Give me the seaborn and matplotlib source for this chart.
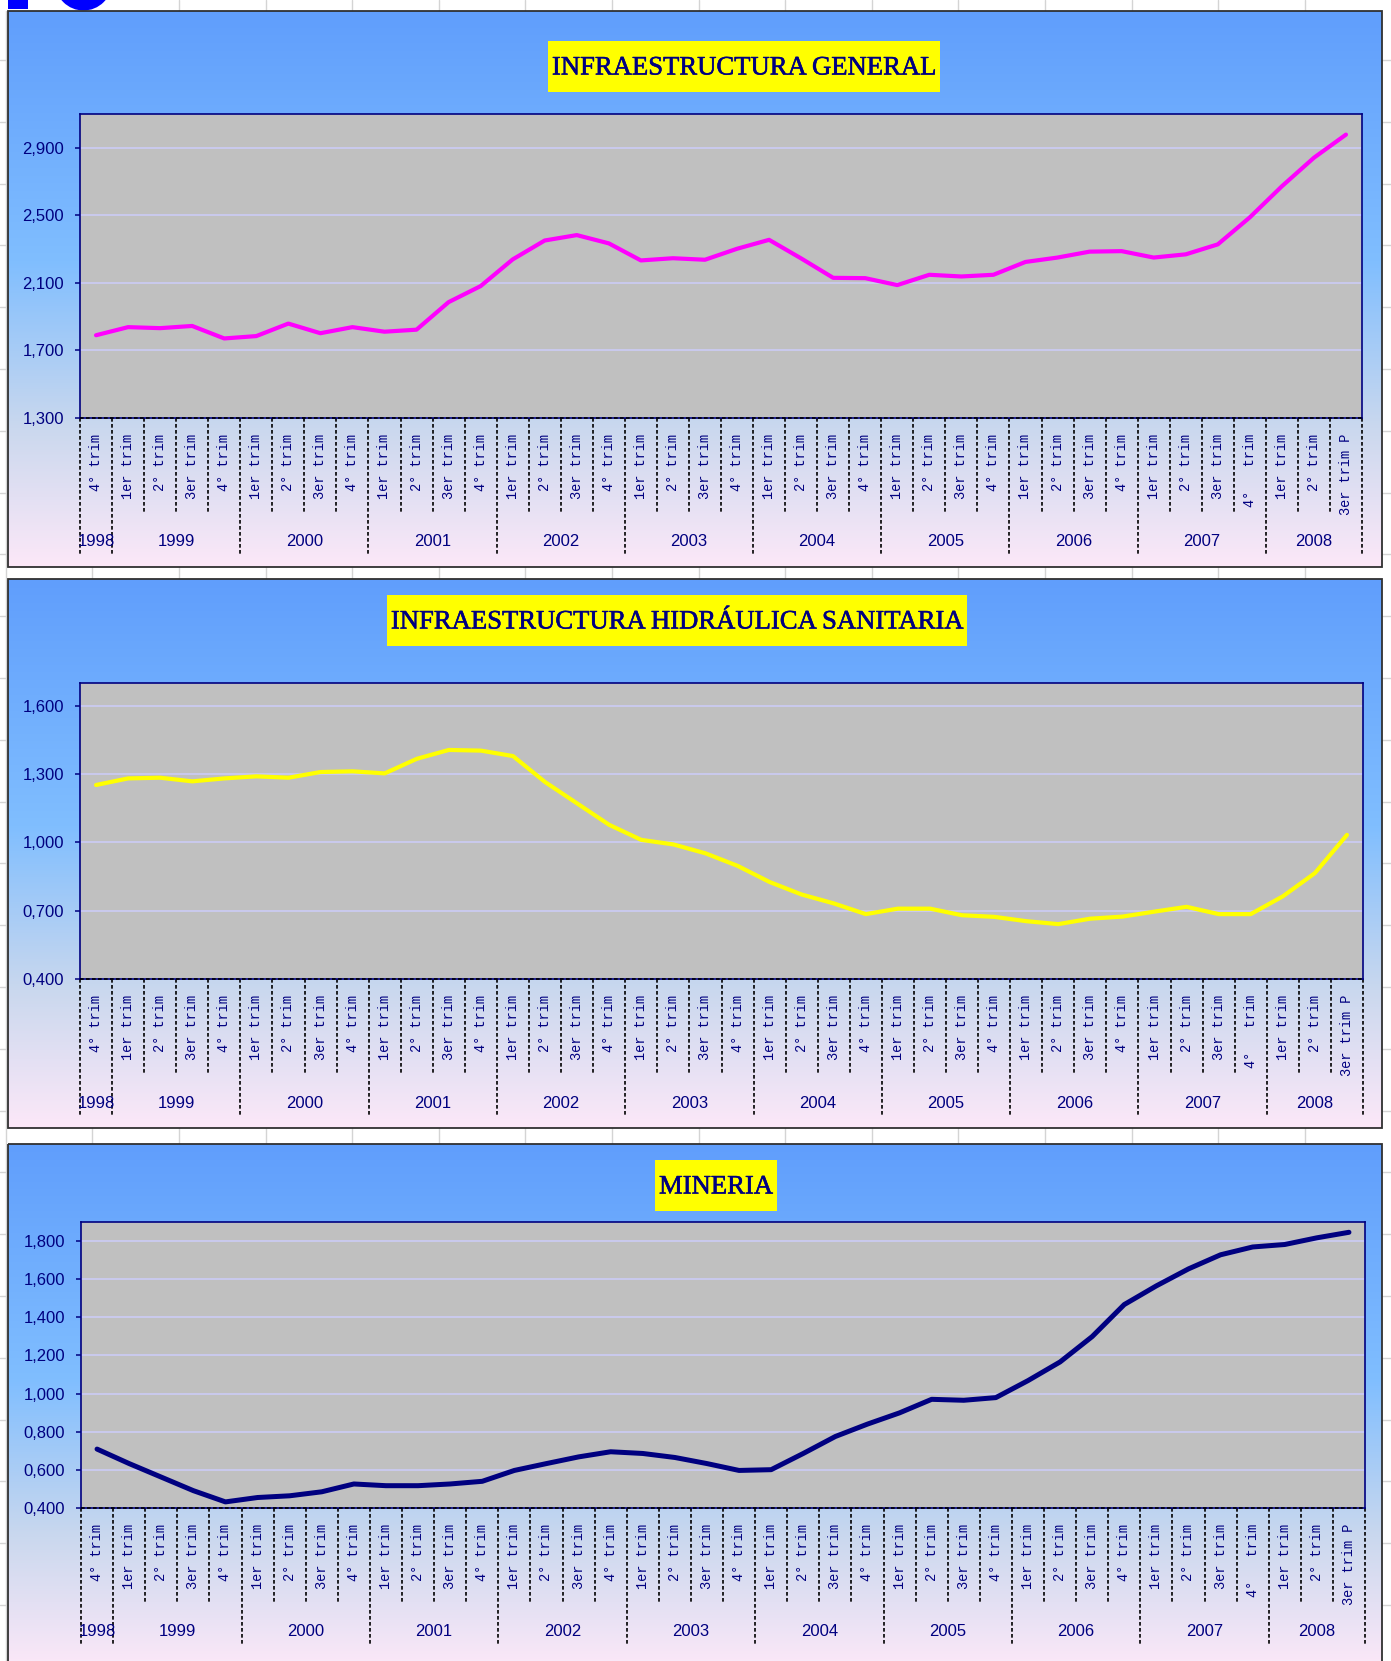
import matplotlib
matplotlib.use("Agg")
import matplotlib.pyplot as plt
import matplotlib.transforms as mtransforms
import matplotlib.patheffects as pe
from matplotlib.patches import Rectangle, Circle
from matplotlib.ticker import FuncFormatter
import seaborn as sns
import pandas as pd
import numpy as np

W, H = 1391, 1661

# categorias: trimestre y año de cada punto
anios = [1998] + [a for a in range(1999, 2008) for _ in range(4)] + [2008] * 3
trimestres = (["4° trim"]
              + ["1er trim", "2° trim", "3er trim", "4° trim"] * 8
              + ["1er trim", "2° trim", "3er trim", "4°   trim"]
              + ["1er trim", "2° trim", "3er trim P"])

# valores
infra_general = [1.790, 1.838, 1.832, 1.845, 1.771, 1.785, 1.859, 1.802, 1.838, 1.811,
                 1.823, 1.986, 2.081, 2.239, 2.351, 2.383, 2.334, 2.233, 2.246, 2.237,
                 2.302, 2.355, 2.245, 2.130, 2.128, 2.087, 2.148, 2.138, 2.148, 2.224,
                 2.250, 2.285, 2.288, 2.250, 2.269, 2.328, 2.488, 2.672, 2.841, 2.978]
infra_hidraulica = [1.252, 1.281, 1.284, 1.268, 1.281, 1.290, 1.284, 1.309, 1.312, 1.303,
                    1.367, 1.406, 1.403, 1.379, 1.265, 1.171, 1.077, 1.011, 0.991, 0.952,
                    0.897, 0.826, 0.771, 0.732, 0.685, 0.709, 0.709, 0.680, 0.673, 0.654,
                    0.641, 0.665, 0.674, 0.696, 0.717, 0.685, 0.685, 0.763, 0.865, 1.033]
mineria = [0.709, 0.633, 0.562, 0.491, 0.432, 0.455, 0.464, 0.485, 0.526, 0.517,
           0.517, 0.526, 0.540, 0.597, 0.633, 0.668, 0.695, 0.686, 0.665, 0.633,
           0.597, 0.601, 0.686, 0.775, 0.840, 0.899, 0.970, 0.965, 0.979, 1.068,
           1.166, 1.299, 1.467, 1.565, 1.654, 1.728, 1.769, 1.782, 1.817, 1.846]

ticks_general = [1.3, 1.7, 2.1, 2.5, 2.9]
ticks_hidraulica = [0.4, 0.7, 1.0, 1.3, 1.6]
ticks_mineria = [0.4, 0.6, 0.8, 1.0, 1.2, 1.4, 1.6, 1.8]

sns.set_style("white")
plt.rcParams['font.family'] = ['Liberation Sans', 'DejaVu Sans']

NAVY = '#000080'

paneles = [
    dict(titulo="INFRAESTRUCTURA GENERAL", valores=infra_general, color='#FF00FF', lw=3.0,
         ticks=ticks_general, ylim=(1.3, 3.1),
         marco=(8, 11, 1382, 567), plot=(80, 114, 1362, 418), centro=(744, 66)),
    dict(titulo="INFRAESTRUCTURA HIDRÁULICA SANITARIA", valores=infra_hidraulica, color='#FFFF00', lw=3.0,
         ticks=ticks_hidraulica, ylim=(0.4, 1.7),
         marco=(8, 579, 1382, 1128), plot=(80, 683, 1363, 979), centro=(677, 620)),
    dict(titulo="MINERIA", valores=mineria, color=NAVY, lw=3.6,
         ticks=ticks_mineria, ylim=(0.4, 1.9),
         marco=(8, 1144, 1382, 1668), plot=(81, 1222, 1365, 1508), centro=(716, 1185)),
]

fig = plt.figure(figsize=(W / 100, H / 100), dpi=100)

# lienzo en pixeles: hoja de calculo, marcos con degradado y titulos
lienzo = fig.add_axes([0, 0, 1, 1])
lienzo.axis('off')
for x in np.arange(5.8, W, 86.6):
    lienzo.plot([x, x], [0, H], color='#D4D4D4', lw=1.0, zorder=0)
for y in np.arange(60, H, 61.8):
    lienzo.plot([0, W], [y, y], color='#D4D4D4', lw=1.0, zorder=0)
lienzo.add_patch(Rectangle((0, 0), 124, 11, facecolor='white', edgecolor='none', zorder=0.5))
lienzo.add_patch(Rectangle((8, 0), 20, 9, facecolor='#0000FF', edgecolor='none', zorder=0.6))
lienzo.add_patch(Circle((83.5, -18), 28.5, facecolor='#0000FF', edgecolor='none', zorder=0.6))

stops = [0.0, 0.45, 0.75, 1.0]
colores = np.array([(96, 158, 252), (128, 190, 255), (202, 216, 238), (252, 232, 248)]) / 255
t = np.linspace(0, 1, 300)
grad = np.stack([np.interp(t, stops, colores[:, c]) for c in range(3)], axis=-1)[:, None, :]

renderer = fig.canvas.get_renderer()
grueso = [pe.withStroke(linewidth=0.4, foreground=NAVY)]

for p in paneles:
    x0, y0, x1, y1 = p['marco']
    lienzo.imshow(grad, extent=(x0, x1, y1, y0), aspect='auto', zorder=1, interpolation='bilinear')
    lienzo.add_patch(Rectangle((x0, y0), x1 - x0, y1 - y0, fill=False, edgecolor='#303030', lw=1.3, zorder=2))

    cx, cy = p['centro']
    txt = lienzo.text(cx, cy + 2, p['titulo'], ha='center', va='center', fontsize=19.2,
                      fontfamily='Liberation Serif', color=NAVY, zorder=4, path_effects=grueso)
    bb = txt.get_window_extent(renderer)
    lienzo.add_patch(Rectangle((cx - bb.width / 2 - 4, cy - 25.5), bb.width + 8, 51,
                               facecolor='#FFFF00', edgecolor='none', zorder=3))

    # area de trazado
    px0, py0, px1, py1 = p['plot']
    alto = py1 - py0
    ax = fig.add_axes([px0 / W, 1 - py1 / H, (px1 - px0) / W, alto / H])
    ax.set_facecolor('#C0C0C0')
    df = pd.DataFrame({'pos': range(len(p['valores'])), 'valor': p['valores']})
    sns.lineplot(data=df, x='pos', y='valor', color=p['color'], linewidth=p['lw'], ax=ax,
                 solid_capstyle='round', solid_joinstyle='round', zorder=4)
    ax.set_xlim(-0.5, len(trimestres) - 0.5)
    ax.set_ylim(*p['ylim'])
    ax.set_yticks(p['ticks'])
    ax.yaxis.set_major_formatter(FuncFormatter(lambda v, _: f"{v:.3f}".replace('.', ',')))
    ax.set_xticks(range(len(trimestres)))
    ax.set_xticklabels(trimestres, rotation=90, fontfamily='Liberation Mono', fontsize=9.8, color=NAVY)
    ax.tick_params(axis='x', length=0, pad=11.5)
    ax.tick_params(axis='y', left=True, length=3.6, width=1.1, color=NAVY, pad=8,
                   labelsize=12, labelcolor=NAVY)
    ax.grid(axis='y', color='#CCCCF5', lw=1.2)
    ax.grid(axis='x', visible=False)
    ax.set_axisbelow(True)
    for s in ax.spines.values():
        s.set_color(NAVY)
        s.set_linewidth(1.2)
    ax.set_xlabel('')
    ax.set_ylabel('')

    trans = mtransforms.blended_transform_factory(ax.transData, ax.transAxes)
    ax.plot([-0.5, len(trimestres) - 0.5], [0, 0], transform=trans, clip_on=False,
            color='black', lw=1.2, ls=(0, (2.2, 1.4)), zorder=5)
    for k in range(len(trimestres) + 1):
        es_anio = k == 0 or k == len(trimestres) or anios[k] != anios[k - 1]
        largo = 138 if es_anio else 96
        ax.plot([k - 0.5, k - 0.5], [0, -largo / alto], transform=trans, clip_on=False,
                color='black', lw=1.2, ls=(0, (2.2, 1.4)))
    for a in sorted(set(anios)):
        idx = [i for i, v in enumerate(anios) if v == a]
        ax.text(np.mean(idx), -124 / alto, str(a), transform=trans, ha='center', va='center',
                fontsize=12, color=NAVY)

lienzo.set_xlim(0, W)
lienzo.set_ylim(H, 0)

fig.savefig('out.png', dpi=100)
